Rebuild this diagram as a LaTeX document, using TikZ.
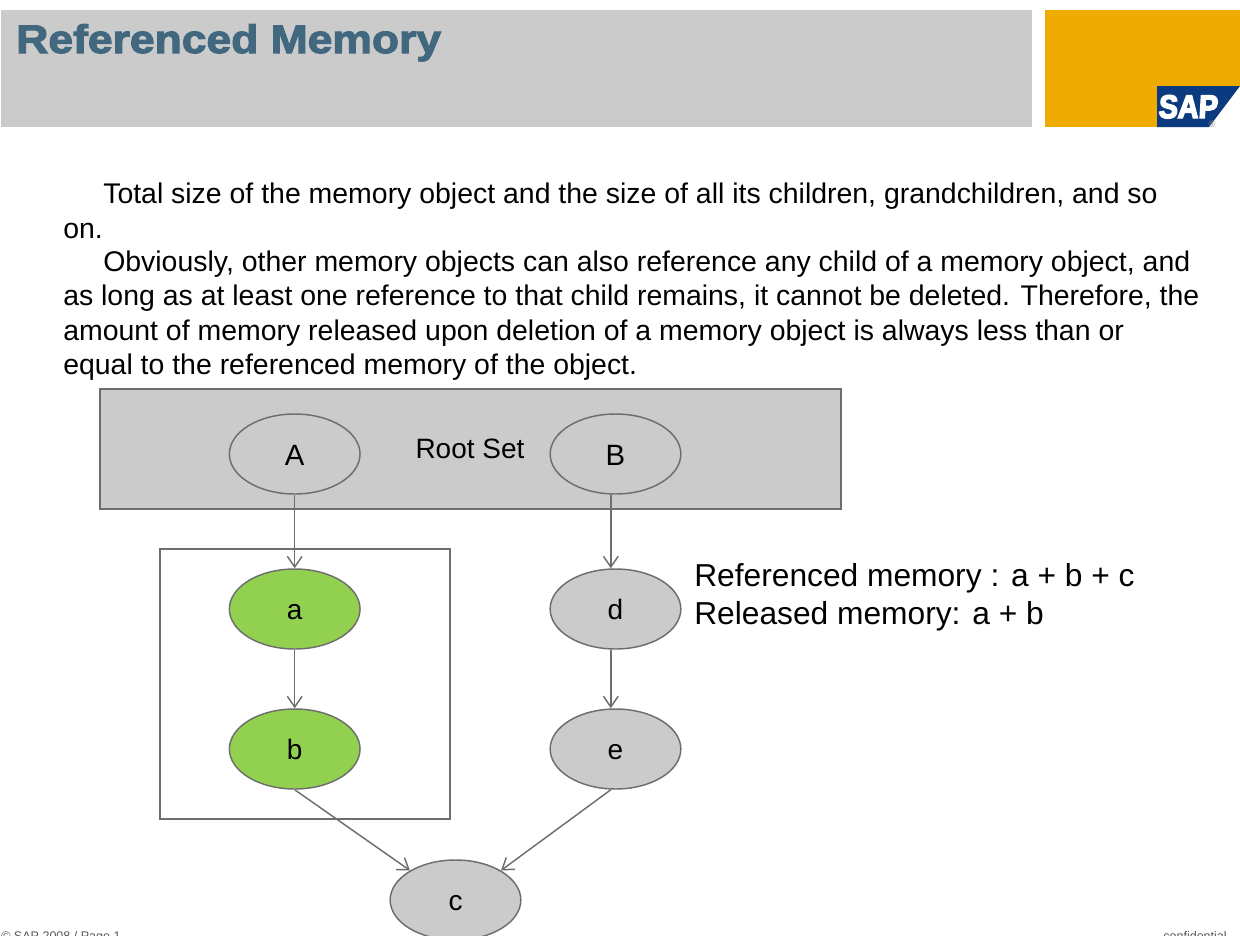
\documentclass[tikz,border=0pt]{standalone}
\usepackage{fontspec}
\setmainfont{Liberation Sans}
\newfontfamily\titlefont[FakeBold=2.8,FakeStretch=1.115]{Liberation Sans Bold}
\newfontfamily\logofont[FakeBold=4.5,FakeStretch=0.88,FakeSlant=0.06]{Liberation Sans Bold}
\usetikzlibrary{arrows.meta,calc,shapes.geometric}
\definecolor{panelgray}{HTML}{CBCBCB}
\definecolor{sapgold}{HTML}{F0AB00}
\definecolor{sapblue}{HTML}{0A3A80}
\definecolor{titleblue}{HTML}{41687F}
\definecolor{leafgreen}{HTML}{92D14F}
\definecolor{linegray}{HTML}{6E6E6E}
\tikzset{
  oval/.style={draw=linegray,line width=1.1pt,ellipse,minimum width=98pt,minimum height=60pt,inner sep=0pt,text height=15.5pt,text depth=0pt,font=\fontsize{21pt}{24pt}\selectfont},
  capoval/.style={text height=17pt,font=\fontsize{22pt}{24pt}\selectfont},
  graynode/.style={oval,fill=panelgray},
  greennode/.style={oval,fill=leafgreen},
  conn/.style={draw=linegray,line width=1.1pt,-{Straight Barb[length=8pt,width=11pt,line width=1.1pt]}},
  para/.style={anchor=base west,inner sep=0pt,font=\fontsize{21.33pt}{24pt}\selectfont},
  side/.style={anchor=base west,inner sep=0pt,font=\fontsize{23.8pt}{28pt}\selectfont},
  foot/.style={inner sep=0pt,font=\fontsize{9.4pt}{11pt}\selectfont}
}
\begin{document}
\begin{tikzpicture}[x=0.75pt,y=-0.75pt]
\useasboundingbox (0,0) rectangle (1240,936);
\clip (0,0) rectangle (1240,936);
% header
\fill[panelgray] (1,10) rectangle (1032,127);
\node[anchor=base west,inner sep=0pt,text=titleblue,font=\titlefont\fontsize{29.9pt}{32pt}\selectfont] (title) at (16,53) {Referenced Memory};
\fill[sapgold] (1045,10) rectangle (1240,127);
\fill[white] (1240,86) -- (1240,127) -- (1209,127) -- cycle;
\fill[sapblue] (1157,86) -- (1240,86) -- (1209,127) -- (1157,127) -- cycle;
\node[anchor=base west,inner sep=0pt,text=white,font=\logofont\fontsize{24.5pt}{26pt}\selectfont] (logo) at (1158,118) {SAP};
\node[anchor=center,inner sep=0pt,text=black!45,font=\fontsize{7pt}{8pt}\selectfont] (reg) at (1212,124) {®};
% paragraph
\node[para] (l1) at (103,203) {Total size of the memory object and the size of all its children, grandchildren, and so};
\node[para] (l2) at (63,238) {on.};
\node[para] (l3) at (103,271) {Obviously, other memory objects can also reference any child of a memory object, and};
\node[para] (l4) at (63,305) {as long as at least one reference to that child remains, it cannot be deleted. Therefore, the};
\node[para] (l5) at (63,340) {amount of memory released upon deletion of a memory object is always less than or};
\node[para] (l6) at (63,374) {equal to the referenced memory of the object.};
% boxes
\draw[linegray,line width=1.1pt,fill=panelgray] (100,389) rectangle (841,509);
\draw[linegray,line width=1.1pt] (160,549) rectangle (450,819);
\node[inner sep=0pt,font=\fontsize{21pt}{24pt}\selectfont] (root) at (470,449) {Root Set};
% nodes
\node[graynode,capoval] (A) at (294.7,454) {A};
\node[graynode,capoval] (B) at (615.5,454) {B};
\node[greennode] (a) at (294.7,609) {a};
\node[graynode] (d) at (615.5,609) {d};
\node[greennode] (b) at (294.7,749) {b};
\node[graynode] (e) at (615.5,749) {e};
\node[graynode] (c) at (455.5,900) {c};
% connectors
\draw[conn] (A.south) -- (a.north);
\draw[conn] ([xshift=-3.5pt]B.south) -- ([xshift=-3.5pt]d.north);
\draw[conn] (a.south) -- (b.north);
\draw[conn] ([xshift=-3.5pt]d.south) -- ([xshift=-3.5pt]e.north);
\draw[conn] (b.south) -- (c.147);
\draw[conn] ([xshift=-3.5pt]e.south) -- (c.33);
% side text
\node[side] (s1) at (694,586) {Referenced memory : a + b + c};
\node[side] (s2) at (694,624) {Released memory: a + b};
% footer
\node[foot,anchor=north west,text=black!65] (f1) at (1,931) {© SAP 2008 / Page 1};
\node[foot,anchor=north east,text=black!65] (f2) at (1227,931) {confidential};
\end{tikzpicture}
\end{document}
